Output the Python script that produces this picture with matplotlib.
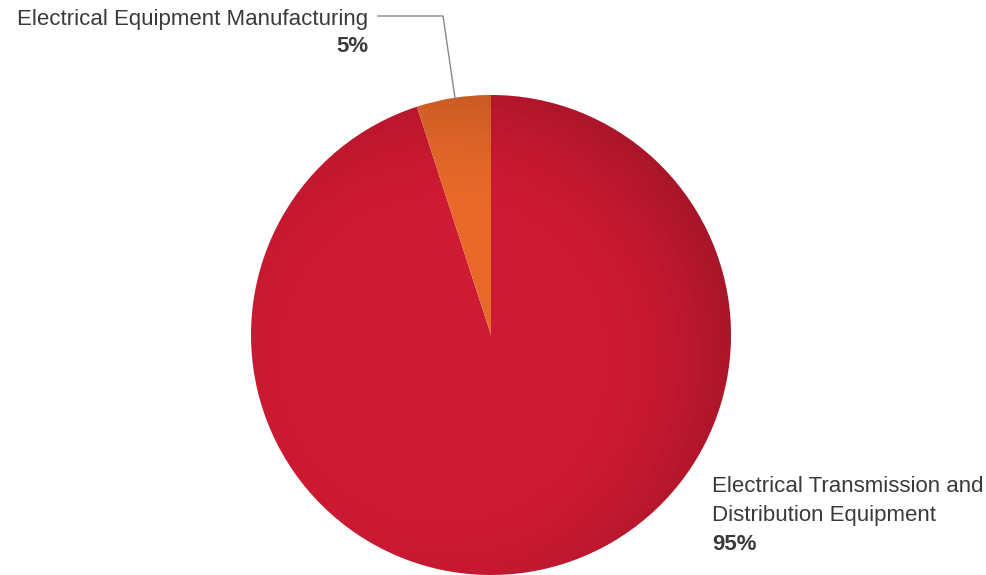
import numpy as np
import matplotlib.pyplot as plt
from matplotlib.patches import Circle

plt.rcParams['font.family'] = ['Liberation Sans', 'DejaVu Sans']

labels = ['Electrical Transmission and', 'Distribution Equipment', 'Electrical Equipment Manufacturing']
shares = [95, 5]
colors = ['#cf1a33', '#e8692a']

W, H = 987, 575
fig = plt.figure(figsize=(W / 100, H / 100), dpi=100)

# pie centre (491, 335) px, radius 240 px
cx, cy, r = 491, 335, 240
ax = fig.add_axes([(cx - r) / W, (H - cy - r) / H, 2 * r / W, 2 * r / H])
wedges, _ = ax.pie(shares, colors=colors, startangle=90 - 360 * shares[0] / 100,
                   counterclock=True, radius=1, wedgeprops=dict(linewidth=0))
ax.set_xlim(-1, 1)
ax.set_ylim(-1, 1)
ax.set_aspect('equal')
ax.axis('off')

# soft darkening towards the rim
yy, xx = np.mgrid[-1:1:400j, -1:1:400j]
rr = np.sqrt((xx + 0.2) ** 2 + (yy + 0.1) ** 2)
shade = np.zeros((400, 400, 4))
shade[..., 3] = np.clip((rr - 0.6) / 0.8, 0, 1) ** 1.8 * 0.3
im = ax.imshow(shade, extent=(-1, 1, -1, 1), origin='lower', zorder=3)
im.set_clip_path(Circle((0, 0), 1, transform=ax.transData))

txt = '#3a3a3a'
fs = 16
fig.text(368 / W, 1 - 19 / H, labels[2], ha='right', va='center', fontsize=fs, color=txt)
fig.text(368 / W, 1 - 46 / H, f'{shares[1]}%', ha='right', va='center', fontsize=fs,
         color=txt, fontweight='bold')
fig.text(712 / W, 1 - 487 / H, labels[0], ha='left', va='center', fontsize=fs, color=txt)
fig.text(712 / W, 1 - 515 / H, labels[1], ha='left', va='center', fontsize=fs, color=txt)
fig.text(712 / W, 1 - 545 / H, f'{shares[0]}%', ha='left', va='center', fontsize=fs,
         color=txt, fontweight='bold')

# leader line for the small slice
lx = [378 / W, 443 / W, 455 / W]
ly = [1 - 16 / H, 1 - 16 / H, 1 - 98 / H]
fig.add_artist(plt.Line2D(lx, ly, color='#888888', linewidth=1))

fig.savefig('out.png', dpi=100, facecolor='white')
